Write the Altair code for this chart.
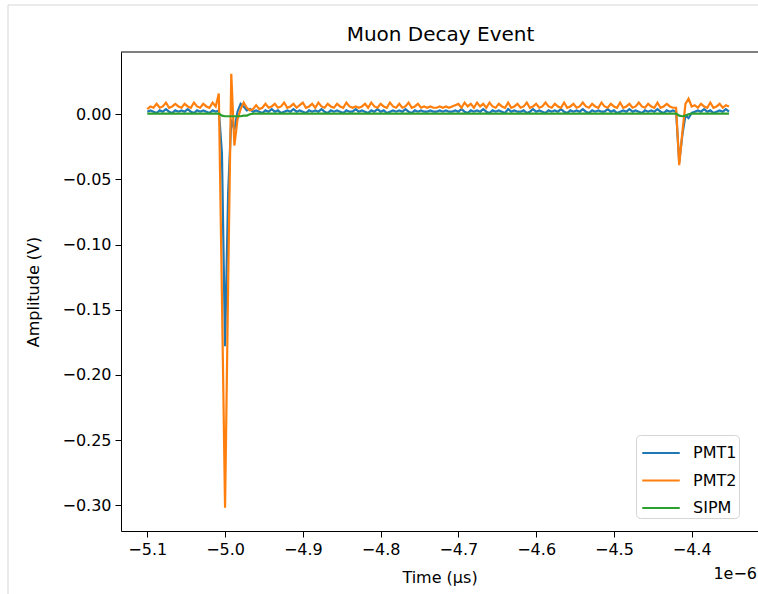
import altair as alt
import pandas as pd

# Oscilloscope capture: 4 ns sampling starting at -5.100 us (times in units of 1e-6 s)
t0 = -5.100
dt = 0.004

pmt1 = [
    0.002, 0.003, 0.002, 0.001, 0.003, 0.002, 0.004, 0.002, 0.001, 0.003,
    0.002, 0.003, 0.002, 0.004, 0.002, 0.001, 0.003, 0.002, 0.003, 0.002,
    0.001, 0.003, 0.002, 0.003, -0.030, -0.178, -0.060, -0.004, -0.012, 0.002,
    0.008, 0.006, 0.003, 0.004, 0.002, 0.003, 0.002, 0.001, 0.003, 0.002,
    0.004, 0.002, 0.003, 0.001, 0.002, 0.003, 0.002, 0.004, 0.002, 0.003,
    0.002, 0.001, 0.003, 0.002, 0.003, 0.002, 0.004, 0.002, 0.001, 0.003,
    0.002, 0.003, 0.002, 0.001, 0.003, 0.002, 0.002, 0.004, 0.002, 0.003,
    0.002, 0.001, 0.003, 0.002, 0.004, 0.002, 0.003, 0.001, 0.002, 0.003,
    0.002, 0.003, 0.002, 0.004, 0.002, 0.001, 0.003, 0.002, 0.003, 0.002,
    0.002, 0.003, 0.002, 0.002, 0.003, 0.002, 0.003, 0.002, 0.002, 0.003,
    0.002, 0.004, 0.002, 0.001, 0.003, 0.002, 0.003, 0.002, 0.004, 0.002,
    0.001, 0.003, 0.002, 0.003, 0.002, 0.001, 0.004, 0.002, 0.003, 0.002,
    0.002, 0.003, 0.001, 0.002, 0.004, 0.002, 0.003, 0.002, 0.001, 0.003,
    0.002, 0.003, 0.002, 0.004, 0.002, 0.001, 0.003, 0.002, 0.003, 0.002,
    0.004, 0.002, 0.001, 0.003, 0.002, 0.003, 0.002, 0.002, 0.004, 0.002,
    0.003, 0.001, 0.002, 0.003, 0.002, 0.004, 0.002, 0.003, 0.002, 0.001,
    0.003, 0.002, 0.003, 0.002, 0.004, 0.002, 0.001, 0.003, 0.002, 0.003,
    0.002, -0.037, -0.016, -0.001, -0.003, 0.001, 0.002, 0.003, 0.002, 0.004,
    0.002, 0.003, 0.001, 0.002, 0.003, 0.002, 0.004, 0.002,
]

pmt2 = [
    0.004, 0.006, 0.005, 0.008, 0.005, 0.006, 0.009, 0.005, 0.006, 0.008,
    0.006, 0.005, 0.008, 0.006, 0.005, 0.009, 0.006, 0.005, 0.008, 0.006,
    0.005, 0.009, 0.006, 0.016, -0.140, -0.302, -0.130, 0.031, -0.024, -0.004,
    0.004, 0.009, 0.005, 0.003, 0.004, 0.007, 0.004, 0.005, 0.008, 0.005,
    0.006, 0.008, 0.005, 0.006, 0.009, 0.005, 0.006, 0.008, 0.005, 0.007,
    0.009, 0.005, 0.006, 0.008, 0.005, 0.009, 0.006, 0.005, 0.008, 0.006,
    0.005, 0.008, 0.006, 0.005, 0.009, 0.006, 0.005, 0.006, 0.005, 0.006,
    0.008, 0.005, 0.009, 0.006, 0.005, 0.008, 0.006, 0.005, 0.009, 0.006,
    0.005, 0.008, 0.005, 0.006, 0.009, 0.005, 0.006, 0.008, 0.005, 0.006,
    0.005, 0.006, 0.005, 0.005, 0.006, 0.005, 0.006, 0.005, 0.006, 0.007,
    0.008, 0.005, 0.009, 0.006, 0.008, 0.005, 0.009, 0.006, 0.008, 0.005,
    0.009, 0.006, 0.005, 0.008, 0.006, 0.005, 0.009, 0.005, 0.006, 0.008,
    0.005, 0.006, 0.009, 0.005, 0.006, 0.008, 0.005, 0.006, 0.009, 0.006,
    0.005, 0.008, 0.006, 0.005, 0.009, 0.005, 0.006, 0.008, 0.005, 0.006,
    0.009, 0.006, 0.005, 0.008, 0.006, 0.005, 0.009, 0.006, 0.005, 0.008,
    0.006, 0.005, 0.009, 0.005, 0.006, 0.008, 0.005, 0.006, 0.009, 0.006,
    0.005, 0.008, 0.006, 0.005, 0.009, 0.005, 0.006, 0.008, 0.006, 0.005,
    0.005, -0.039, -0.014, 0.008, 0.012, 0.006, 0.007, 0.005, 0.008, 0.006,
    0.005, 0.009, 0.005, 0.006, 0.008, 0.005, 0.007, 0.006,
]

sipm = [
    0.0005, 0.0005, 0.0005, 0.0005, 0.0005, 0.0005, 0.0005, 0.0005, 0.0005, 0.0005,
    0.0005, 0.0005, 0.0005, 0.0005, 0.0005, 0.0005, 0.0005, 0.0005, 0.0005, 0.0005,
    0.0005, 0.0005, 0.0005, 0.0005, -0.001, -0.0015, -0.0015, -0.0015, -0.0015, -0.0015,
    -0.0015, -0.001, -0.001, 0.0, 0.0005, 0.0005, 0.0005, 0.0005, 0.0005, 0.0005,
    0.0005, 0.0005, 0.0005, 0.0005, 0.0005, 0.0005, 0.0005, 0.0005, 0.0005, 0.0005,
    0.0005, 0.0005, 0.0005, 0.0005, 0.0005, 0.0005, 0.0005, 0.0005, 0.0005, 0.0005,
    0.0005, 0.0005, 0.0005, 0.0005, 0.0005, 0.0005, 0.0005, 0.0005, 0.0005, 0.0005,
    0.0005, 0.0005, 0.0005, 0.0005, 0.0005, 0.0005, 0.0005, 0.0005, 0.0005, 0.0005,
    0.0005, 0.0005, 0.0005, 0.0005, 0.0005, 0.0005, 0.0005, 0.0005, 0.0005, 0.0005,
    0.0005, 0.0005, 0.0005, 0.0005, 0.0005, 0.0005, 0.0005, 0.0005, 0.0005, 0.0005,
    0.0005, 0.0005, 0.0005, 0.0005, 0.0005, 0.0005, 0.0005, 0.0005, 0.0005, 0.0005,
    0.0005, 0.0005, 0.0005, 0.0005, 0.0005, 0.0005, 0.0005, 0.0005, 0.0005, 0.0005,
    0.0005, 0.0005, 0.0005, 0.0005, 0.0005, 0.0005, 0.0005, 0.0005, 0.0005, 0.0005,
    0.0005, 0.0005, 0.0005, 0.0005, 0.0005, 0.0005, 0.0005, 0.0005, 0.0005, 0.0005,
    0.0005, 0.0005, 0.0005, 0.0005, 0.0005, 0.0005, 0.0005, 0.0005, 0.0005, 0.0005,
    0.0005, 0.0005, 0.0005, 0.0005, 0.0005, 0.0005, 0.0005, 0.0005, 0.0005, 0.0005,
    0.0005, 0.0005, 0.0005, 0.0005, 0.0005, 0.0005, 0.0005, 0.0005, 0.0005, 0.0005,
    0.0005, -0.001, -0.0015, -0.001, 0.0, 0.0005, 0.0005, 0.0005, 0.0005, 0.0005,
    0.0005, 0.0005, 0.0005, 0.0005, 0.0005, 0.0005, 0.0005, 0.0005,
]

channels = ["PMT1", "PMT2", "SIPM"]
colors = ["#1f77b4", "#ff7f0e", "#2ca02c"]
x_ticks = [-5.1, -5.0, -4.9, -4.8, -4.7, -4.6, -4.5, -4.4]
y_ticks = [0.0, -0.05, -0.10, -0.15, -0.20, -0.25, -0.30]
title_text = "Muon Decay Event"
exponent_text = "1e−6"

times = [round(t0 + dt * i, 3) for i in range(len(pmt2))]
frames = []
for name, vals in zip(channels, [pmt1, pmt2, sipm]):
    frames.append(pd.DataFrame({"time": times, "amplitude": vals, "channel": name}))
df = pd.concat(frames, ignore_index=True)
one_row = pd.DataFrame({"k": [0]})

W, H = 637, 479
FONT = "DejaVu Sans"

x_enc = alt.X(
    "time:Q",
    scale=alt.Scale(domain=[-5.1338, -4.3147], nice=False, zero=False),
    axis=alt.Axis(values=x_ticks, format=".1f", title="Time (μs)", titlePadding=12),
)
y_enc = alt.Y(
    "amplitude:Q",
    scale=alt.Scale(domain=[-0.3198, 0.0478], nice=False, zero=False),
    axis=alt.Axis(values=y_ticks, format=".2f", title="Amplitude (V)", titlePadding=20),
)
color_enc = alt.Color(
    "channel:N",
    scale=alt.Scale(domain=channels, range=colors),
    legend=alt.Legend(
        title=None,
        orient="none",
        legendX=515,
        legendY=383,
        symbolType="M-1.25,0H1.25",
        symbolSize=900,
        symbolStrokeWidth=2,
        symbolOffset=7,
        labelFontSize=16,
        labelFont=FONT,
        labelColor="black",
        labelOffset=16,
        rowPadding=3.5,
        padding=2,
        strokeColor="#d5d5d5",
        fillColor="white",
        cornerRadius=4,
    ),
)

layers = []
for name in channels:
    layers.append(
        alt.Chart(df)
        .transform_filter(alt.datum.channel == name)
        .mark_line(strokeWidth=2.2)
        .encode(x=x_enc, y=y_enc, color=color_enc)
    )

title_mark = alt.Chart(one_row).mark_text(
    text=title_text, align="center", baseline="middle", fontSize=20, font=FONT, color="black"
).encode(x=alt.value(W / 2 + 1), y=alt.value(-17))

# exponent shown beside the x axis
offset_text = alt.Chart(one_row).mark_text(
    text=exponent_text, align="right", baseline="middle", fontSize=16, font=FONT, color="black"
).encode(x=alt.value(W - 1), y=alt.value(522))

# top spine (left and bottom spines come from the axis domains)
top_spine = alt.Chart(one_row).mark_rule(color="black", strokeWidth=1).encode(
    y=alt.value(0), x=alt.value(0), x2=alt.value(W + 1)
)

# thin frame around the figure
frame_left = alt.Chart(one_row).mark_rule(color="#d6d6d6", strokeWidth=1).encode(
    x=alt.value(-113), y=alt.value(-47), y2=alt.value(H + 70)
)
frame_top = alt.Chart(one_row).mark_rule(color="#d6d6d6", strokeWidth=1).encode(
    y=alt.value(-47), x=alt.value(-113), x2=alt.value(W + 10)
)

chart = (
    alt.layer(*layers, top_spine, title_mark, offset_text, frame_left, frame_top)
    .properties(
        width=W,
        height=H,
        background="white",
        autosize=alt.AutoSizeParams(type="none"),
        padding={"left": 121, "top": 52, "right": 0, "bottom": 63},
    )
    .configure_view(strokeWidth=0)
    .configure_axis(
        grid=False,
        domain=True,
        domainColor="black",
        domainWidth=1,
        tickColor="black",
        tickSize=6,
        labelFontSize=16,
        labelFont=FONT,
        labelColor="black",
        labelPadding=4,
        titleFontSize=16,
        titleFont=FONT,
        titleFontWeight="normal",
        titleColor="black",
    )
)

chart.save("out.html", embed_options={"renderer": "svg", "actions": False})
